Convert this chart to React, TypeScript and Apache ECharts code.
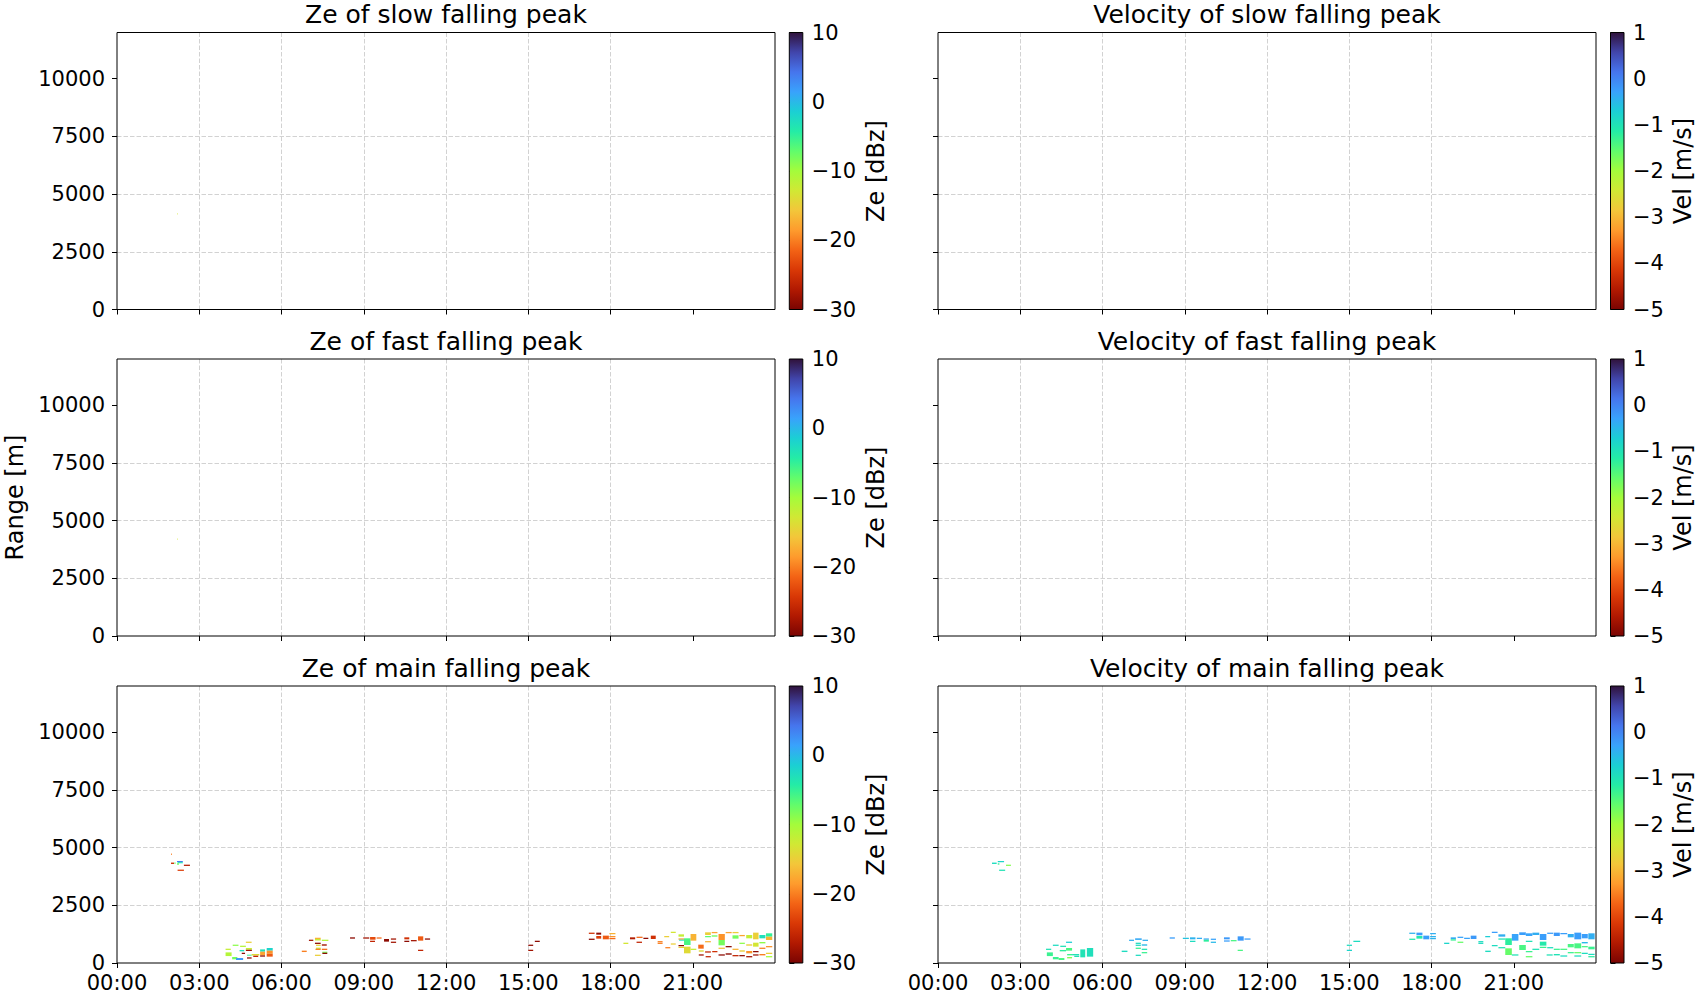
import React, { useEffect, useRef } from 'react';
import * as echarts from 'echarts';

const FONT = 'DejaVu Sans';

// ---- axis ticks ----
const HOUR_TICKS = [0, 3, 6, 9, 12, 15, 18, 21];
const RANGE_TICKS = [0, 2500, 5000, 7500, 10000];
const ZE_TICKS = [-30, -20, -10, 0, 10];
const VEL_TICKS = [-5, -4, -3, -2, -1, 0, 1];
const ZE_LIMITS = [-30, 10];
const VEL_LIMITS = [-5, 1];

const TITLES = [
  'Ze of slow falling peak', 'Velocity of slow falling peak',
  'Ze of fast falling peak', 'Velocity of fast falling peak',
  'Ze of main falling peak', 'Velocity of main falling peak',
];

// turbo colormap stops (low -> high of turbo)
const TURBO = ['#30123b', '#4145ab', '#4675ed', '#39a2fc', '#1bcfd4', '#24eca6', '#61fc6c', '#a4fc3b',
  '#d1e834', '#f3c63a', '#fe9b2d', '#f36315', '#d93806', '#b11901', '#7a0402'];

// ---- data: [startHour, endHour, rangeBottom m, rangeTop m, value] ----
const ZE_SLOW = [[2.19, 2.21, 4120, 4170, -13]];
const ZE_FAST = [[2.20, 2.22, 4170, 4220, -13]];
const VEL_SLOW: number[][] = [];
const VEL_FAST: number[][] = [];

const ZE_MAIN = [
  [1.97, 2.00, 4680, 4740, -20], [1.97, 2.08, 4290, 4350, -25], [2.09, 2.14, 4300, 4350, -8],
  [2.19, 2.40, 4370, 4420, 4], [2.21, 2.40, 4320, 4370, -3], [2.19, 2.26, 4260, 4320, -8],
  [2.44, 2.66, 4205, 4260, -27], [2.21, 2.44, 3990, 4045, -24],
  [3.96, 4.15, 565, 620, -12], [3.96, 4.18, 300, 460, -11], [4.22, 4.43, 740, 795, -9],
  [4.20, 4.39, 160, 260, -8], [4.34, 4.60, 130, 215, 2], [4.49, 4.70, 695, 750, -11],
  [4.47, 4.64, 505, 565, -3], [4.70, 4.91, 870, 925, -15], [4.70, 4.92, 575, 650, -12],
  [4.70, 4.92, 520, 575, -28], [4.74, 4.91, 318, 360, -5], [4.55, 4.67, 390, 445, -29],
  [4.74, 4.91, 190, 245, -29], [4.91, 5.19, 330, 390, -14], [4.97, 5.15, 260, 318, -26],
  [5.22, 5.40, 490, 590, -3], [5.22, 5.40, 330, 490, -18], [5.22, 5.40, 275, 330, -29],
  [5.46, 5.68, 535, 650, -2], [5.46, 5.68, 400, 535, -19], [5.46, 5.68, 275, 400, -22],
  [6.74, 6.92, 475, 535, -20], [7.00, 7.16, 955, 1010, -28], [7.22, 7.43, 1040, 1095, -17],
  [7.22, 7.43, 975, 1040, -12], [7.47, 7.71, 955, 1010, -11], [7.22, 7.43, 825, 880, -29],
  [7.26, 7.43, 740, 795, -15], [7.47, 7.65, 750, 810, -28], [7.26, 7.43, 610, 665, -12],
  [7.24, 7.43, 565, 620, -20], [7.47, 7.67, 565, 620, -21], [7.49, 7.67, 435, 490, -8],
  [7.49, 7.67, 390, 445, -29], [7.22, 7.43, 305, 360, -15],
  [8.50, 8.68, 1055, 1112, -29], [8.98, 9.20, 1055, 1110, -28], [9.23, 9.43, 1010, 1127, -23],
  [9.23, 9.41, 910, 965, -26], [9.47, 9.65, 1055, 1110, -21], [9.74, 9.92, 925, 1040, -29],
  [9.99, 10.18, 1010, 1065, -28], [9.99, 10.18, 870, 925, -28], [10.48, 10.66, 1025, 1112, -25],
  [10.48, 10.66, 910, 965, -29], [10.72, 10.93, 940, 995, -28], [10.98, 11.17, 968, 1155, -22],
  [11.23, 11.42, 1010, 1065, -29], [10.98, 11.17, 520, 575, -26],
  [15.00, 15.18, 740, 795, -29], [15.00, 15.18, 520, 575, -28], [15.24, 15.42, 910, 965, -29],
  [17.21, 17.42, 1260, 1315, -25], [17.21, 17.42, 1000, 1055, -29], [17.48, 17.66, 1228, 1315, -29],
  [17.48, 17.66, 1055, 1170, -24], [17.72, 17.94, 1026, 1185, -22], [17.96, 18.18, 1245, 1300, -17],
  [17.96, 18.18, 1115, 1170, -19], [17.96, 18.18, 1030, 1085, -21], [18.47, 18.65, 824, 880, -13],
  [18.71, 18.90, 1026, 1112, -27], [18.95, 19.17, 1085, 1140, -21], [19.20, 19.38, 1040, 1095, -29],
  [18.95, 19.15, 870, 925, -26], [19.47, 19.65, 1040, 1185, -25], [19.72, 19.90, 895, 950, -20],
  [19.72, 19.90, 825, 880, -20], [19.96, 20.14, 1115, 1170, -15], [20.20, 20.38, 1300, 1355, -13],
  [20.20, 20.38, 795, 850, -15], [20.00, 20.18, 635, 690, -20], [20.48, 20.68, 1141, 1242, -12],
  [20.48, 20.68, 1010, 1065, -19], [20.50, 20.68, 970, 1010, -3], [20.48, 20.68, 725, 780, -29],
  [20.48, 20.68, 650, 705, -15], [20.68, 20.92, 780, 1070, -6], [20.68, 20.92, 419, 708, -14],
  [20.92, 21.13, 968, 1257, -17], [20.92, 21.13, 565, 620, -12], [21.20, 21.40, 621, 795, -21],
  [21.22, 21.40, 490, 550, -14], [21.22, 21.40, 320, 375, -28], [21.45, 21.66, 1214, 1329, -15],
  [21.45, 21.66, 1115, 1170, -7], [21.45, 21.66, 895, 950, -17], [21.45, 21.66, 450, 505, -26],
  [21.47, 21.66, 245, 300, -26], [21.69, 21.90, 1290, 1345, -18], [21.69, 21.90, 1140, 1200, -8],
  [21.71, 21.90, 465, 520, -25], [21.94, 22.17, 997, 1257, -19], [21.94, 22.17, 766, 997, -8],
  [21.94, 22.17, 610, 665, -16], [21.94, 22.17, 320, 375, -29], [22.20, 22.42, 1290, 1345, -18],
  [22.20, 22.42, 680, 735, -29], [22.20, 22.42, 360, 420, -29], [22.45, 22.67, 1290, 1345, -15],
  [22.45, 22.67, 1055, 1199, -8], [22.45, 22.67, 565, 620, -17], [22.45, 22.67, 290, 345, -26],
  [22.70, 22.90, 1160, 1215, -18], [22.70, 22.90, 825, 880, -9], [22.70, 22.90, 490, 550, -15],
  [22.70, 22.90, 290, 345, -29], [22.95, 23.17, 1069, 1214, -12], [22.95, 23.17, 750, 810, -15],
  [22.95, 23.17, 419, 520, -19], [22.95, 23.17, 245, 300, -28], [23.20, 23.40, 1026, 1315, -15],
  [23.20, 23.40, 708, 880, -13], [23.20, 23.40, 465, 520, -29], [23.20, 23.40, 320, 375, -28],
  [23.43, 23.65, 1069, 1214, -3], [23.43, 23.65, 850, 910, -9], [23.43, 23.65, 610, 665, -20],
  [23.43, 23.65, 330, 390, -20], [23.67, 23.90, 1140, 1286, -5], [23.67, 23.90, 997, 1140, -17],
  [23.67, 23.90, 680, 735, -19], [23.67, 23.90, 390, 445, -15], [23.67, 23.90, 245, 300, -10],
];

const VEL_MAIN = [
  [1.97, 2.14, 4290, 4350, -0.9], [2.18, 2.41, 4365, 4420, -0.8], [2.18, 2.24, 4260, 4320, -1.3],
  [2.48, 2.66, 4205, 4260, -1.8], [2.23, 2.45, 3990, 4045, -1.0],
  [3.94, 4.13, 565, 620, -1.0], [3.97, 4.19, 300, 460, -1.3], [4.19, 4.40, 740, 795, -0.9],
  [4.19, 4.40, 160, 260, -1.3], [4.40, 4.61, 130, 215, -1.4], [4.46, 4.67, 695, 750, -1.0],
  [4.44, 4.67, 505, 565, -1.2], [4.67, 4.89, 870, 925, -0.7], [4.67, 4.89, 535, 650, -1.4],
  [4.71, 4.89, 330, 390, -1.3], [4.71, 4.89, 200, 260, -1.8], [4.89, 5.15, 330, 390, -1.0],
  [4.97, 5.15, 260, 318, -1.0], [5.19, 5.37, 245, 590, -1.0], [5.43, 5.66, 275, 650, -0.95],
  [6.70, 6.91, 475, 535, -0.9], [6.97, 7.15, 955, 1010, -0.4], [7.19, 7.43, 1000, 1069, -0.35],
  [7.46, 7.66, 955, 1010, -0.4], [7.21, 7.40, 825, 880, -0.9], [7.21, 7.40, 740, 795, -0.9],
  [7.43, 7.63, 750, 810, -0.5], [7.21, 7.40, 610, 665, -1.3], [7.43, 7.63, 565, 620, -1.0],
  [7.43, 7.63, 420, 475, -1.3], [7.21, 7.40, 305, 360, -0.9],
  [8.45, 8.64, 1055, 1112, -0.25], [8.93, 9.15, 1040, 1095, -0.6], [9.19, 9.39, 1025, 1112, -0.45],
  [9.19, 9.39, 910, 965, -0.9], [9.44, 9.63, 1040, 1095, -0.4], [9.69, 9.88, 1010, 1065, -0.25],
  [9.69, 9.88, 925, 1010, -1.2], [9.95, 10.14, 1000, 1055, -0.3], [9.95, 10.14, 870, 925, -0.5],
  [10.43, 10.64, 1025, 1112, -0.2], [10.43, 10.64, 925, 980, -0.25], [10.68, 10.89, 940, 995, -1.4],
  [10.93, 11.15, 968, 1155, -0.2], [11.18, 11.40, 1010, 1065, -0.25], [10.93, 11.12, 520, 575, -1.4],
  [14.91, 15.10, 740, 795, -0.9], [14.91, 15.10, 520, 575, -0.8], [15.15, 15.40, 910, 965, -0.9],
  [17.19, 17.41, 1260, 1315, -0.45], [17.19, 17.41, 1000, 1055, -1.1], [17.45, 17.67, 1199, 1315, -0.25],
  [17.45, 17.67, 1055, 1170, -1.1], [17.70, 17.92, 1026, 1185, -0.25], [17.95, 18.16, 1245, 1300, -0.4],
  [17.95, 18.16, 1115, 1170, -0.45], [17.95, 18.16, 1030, 1085, -0.45], [18.46, 18.65, 824, 880, -0.8],
  [18.70, 18.89, 1026, 1112, -0.4], [18.70, 18.89, 970, 1026, -1.3], [18.95, 19.16, 1085, 1140, -0.3],
  [19.19, 19.40, 1040, 1095, -0.3], [18.95, 19.16, 870, 925, -1.6], [19.43, 19.64, 1040, 1185, -0.2],
  [19.71, 19.89, 895, 950, -0.9], [19.71, 19.89, 825, 880, -0.9], [19.96, 20.14, 1115, 1170, -0.7],
  [20.20, 20.41, 1300, 1355, -0.25], [20.20, 20.41, 725, 780, -0.9], [19.96, 20.16, 475, 535, -0.9],
  [20.44, 20.69, 1141, 1242, -0.4], [20.44, 20.69, 1010, 1065, -1.0], [20.44, 20.69, 635, 690, -1.0],
  [20.69, 20.93, 780, 1070, -1.2], [20.69, 20.93, 347, 636, -1.6], [20.93, 21.17, 968, 1257, -0.3],
  [20.93, 21.17, 320, 375, -1.0], [21.20, 21.44, 563, 780, -1.4], [21.20, 21.44, 1214, 1329, -0.25],
  [21.44, 21.68, 1170, 1286, -0.3], [21.44, 21.68, 910, 965, -1.0], [21.44, 21.68, 465, 520, -1.3],
  [21.44, 21.68, 245, 300, -1.6], [21.68, 21.93, 1214, 1315, -0.4], [21.68, 21.93, 565, 620, -1.0],
  [21.95, 22.19, 997, 1257, -0.25], [21.95, 22.19, 751, 925, -1.1], [21.95, 22.19, 650, 705, -1.3],
  [22.22, 22.44, 1260, 1315, -0.25], [22.22, 22.44, 635, 690, -0.9], [22.20, 22.42, 320, 375, -1.0],
  [22.46, 22.68, 1170, 1315, -0.2], [22.46, 22.68, 565, 620, -1.3], [22.46, 22.68, 330, 390, -1.0],
  [22.70, 22.95, 1245, 1300, -0.25], [22.70, 22.95, 565, 620, -1.4], [22.70, 22.95, 275, 330, -0.9],
  [22.97, 23.19, 1112, 1257, -0.4], [22.97, 23.19, 679, 824, -1.4], [22.97, 23.19, 420, 475, -1.3],
  [23.21, 23.46, 1026, 1315, -0.25], [23.21, 23.46, 636, 852, -1.4], [23.21, 23.46, 420, 475, -1.6],
  [23.21, 23.46, 275, 330, -0.9], [23.48, 23.70, 1069, 1257, -0.25], [23.48, 23.70, 850, 910, -0.5],
  [23.48, 23.70, 680, 735, -1.4], [23.48, 23.70, 390, 445, -0.9], [23.72, 23.95, 1026, 1286, -0.4],
  [23.72, 23.95, 592, 708, -1.3], [23.72, 23.95, 345, 400, -0.9], [23.72, 23.95, 245, 300, -1.2],
];

const PANEL_DATA = [ZE_SLOW, VEL_SLOW, ZE_FAST, VEL_FAST, ZE_MAIN, VEL_MAIN];

function hexToRgb(h: string) {
  return [parseInt(h.slice(1, 3), 16), parseInt(h.slice(3, 5), 16), parseInt(h.slice(5, 7), 16)];
}
const TURBO_RGB = TURBO.map(hexToRgb);
function turbo(t: number) {
  const tt = Math.max(0, Math.min(1, t));
  const x = tt * (TURBO_RGB.length - 1);
  const i = Math.min(Math.floor(x), TURBO_RGB.length - 2);
  const f = x - i;
  const a = TURBO_RGB[i], b = TURBO_RGB[i + 1];
  const c = a.map((v, k) => Math.round(v + (b[k] - v) * f));
  return `rgb(${c[0]},${c[1]},${c[2]})`;
}
function colorFor(v: number, lim: number[]) {
  return turbo(1 - (v - lim[0]) / (lim[1] - lim[0]));
}
const minus = (v: number) => (v < 0 ? '\u2212' + Math.abs(v) : String(v));
const hourFmt = (v: number) => String(Math.round(v)).padStart(2, '0') + ':00';
const plainFmt = (v: number) => String(v);

export default function App() {
  const ref = useRef<HTMLDivElement>(null);
  useEffect(() => {
    if (!ref.current) return;
    const chart = echarts.init(ref.current, undefined, { renderer: 'svg' });

    const colLeft = [117, 938];
    const cbLeft = [789.3, 1610.5];
    const rowTop = [32.5, 359, 686];
    const W = 658, H = 277, CBW = 13.5;
    const gridLine = { show: true, showMinLine: false, showMaxLine: false, lineStyle: { color: '#d2d2d2', width: 1, type: [4.5, 2] } };
    const tickStyle = { show: true, inside: false, length: 5, lineStyle: { color: '#000', width: 1 } };
    const labelStyle = { fontSize: 21, lineHeight: 17, color: '#000', fontFamily: FONT };

    const grid: any[] = [], xAxis: any[] = [], yAxis: any[] = [], series: any[] = [], title: any[] = [];

    for (let r = 0; r < 3; r++) {
      for (let c = 0; c < 2; c++) {
        const i = r * 2 + c;
        const lim = c === 0 ? ZE_LIMITS : VEL_LIMITS;
        grid.push({ left: colLeft[c], top: rowTop[r], width: W, height: H, show: true, borderColor: '#000', borderWidth: 1, backgroundColor: 'transparent', z: 5 });
        xAxis.push({
          gridIndex: i, type: 'value', min: 0, max: 24, interval: 3,
          axisLine: { show: false },
          axisTick: { ...tickStyle, customValues: HOUR_TICKS },
          axisLabel: { show: r === 2, customValues: HOUR_TICKS, formatter: hourFmt, margin: 11, ...labelStyle },
          splitLine: gridLine,
        });
        yAxis.push({
          gridIndex: i, type: 'value', min: 0, max: 12000, interval: 2500,
          axisLine: { show: false },
          axisTick: { ...tickStyle, customValues: RANGE_TICKS },
          axisLabel: { show: c === 0, customValues: RANGE_TICKS, formatter: plainFmt, margin: 12, ...labelStyle },
          splitLine: gridLine,
          name: r === 1 && c === 0 ? 'Range [m]' : '',
          nameLocation: 'middle', nameRotate: 90, nameGap: 90,
          nameTextStyle: { fontSize: 24, color: '#000', fontFamily: FONT },
        });
        series.push({
          type: 'custom', xAxisIndex: i, yAxisIndex: i, clip: true, z: 2,
          data: PANEL_DATA[i],
          encode: { x: [0, 1], y: [2, 3] },
          renderItem: (params: any, api: any) => {
            const p0 = api.coord([api.value(0), api.value(3)]);
            const p1 = api.coord([api.value(1), api.value(2)]);
            return {
              type: 'rect',
              shape: { x: p0[0], y: p0[1], width: Math.max(p1[0] - p0[0], 0.6), height: Math.max(p1[1] - p0[1], 1) },
              style: { fill: colorFor(api.value(4), lim) },
            };
          },
        });
        title.push({
          text: TITLES[i], left: colLeft[c] + W / 2, top: rowTop[r] - 30.5, textAlign: 'center', padding: 0,
          textStyle: { fontSize: 25, fontWeight: 'normal', color: '#000', fontFamily: FONT },
        });
      }
    }

    // colorbars
    for (let r = 0; r < 3; r++) {
      for (let c = 0; c < 2; c++) {
        const gi = 6 + r * 2 + c;
        const lim = c === 0 ? ZE_LIMITS : VEL_LIMITS;
        grid.push({ left: cbLeft[c], top: rowTop[r], width: CBW, height: H, show: true, borderColor: '#000', borderWidth: 1, backgroundColor: 'transparent', z: 5 });
        xAxis.push({ gridIndex: gi, type: 'value', min: 0, max: 1, show: false });
        yAxis.push({
          gridIndex: gi, type: 'value', position: 'right', min: lim[0], max: lim[1], interval: c === 0 ? 10 : 1,
          axisLine: { show: false },
          axisTick: { ...tickStyle, customValues: c === 0 ? ZE_TICKS : VEL_TICKS },
          axisLabel: { customValues: c === 0 ? ZE_TICKS : VEL_TICKS, formatter: minus, margin: 9, ...labelStyle },
          splitLine: { show: false },
          name: c === 0 ? 'Ze [dBz]' : 'Vel [m/s]',
          nameLocation: 'middle', nameRotate: 90, nameGap: c === 0 ? 61 : 47,
          nameTextStyle: { fontSize: 24, color: '#000', fontFamily: FONT },
        });
        series.push({
          type: 'custom', xAxisIndex: gi, yAxisIndex: gi, clip: false, z: 2,
          data: [[0, 1, lim[0], lim[1]]],
          encode: { x: [0, 1], y: [2, 3] },
          renderItem: (params: any, api: any) => {
            const p0 = api.coord([api.value(0), api.value(3)]);
            const p1 = api.coord([api.value(1), api.value(2)]);
            return {
              type: 'rect',
              shape: { x: p0[0], y: p0[1], width: p1[0] - p0[0], height: p1[1] - p0[1] },
              style: {
                fill: new echarts.graphic.LinearGradient(0, 0, 0, 1,
                  TURBO.map((col, k) => ({ offset: k / (TURBO.length - 1), color: col }))),
              },
            };
          },
        });
      }
    }

    chart.setOption({
      animation: false,
      backgroundColor: '#fff',
      textStyle: { fontFamily: FONT },
      title, grid, xAxis, yAxis, series,
    });
    return () => chart.dispose();
  }, []);

  return <div ref={ref} style={{ position: 'absolute', left: 0, top: 0, width: 1700, height: 1000, background: '#fff' }} />;
}
